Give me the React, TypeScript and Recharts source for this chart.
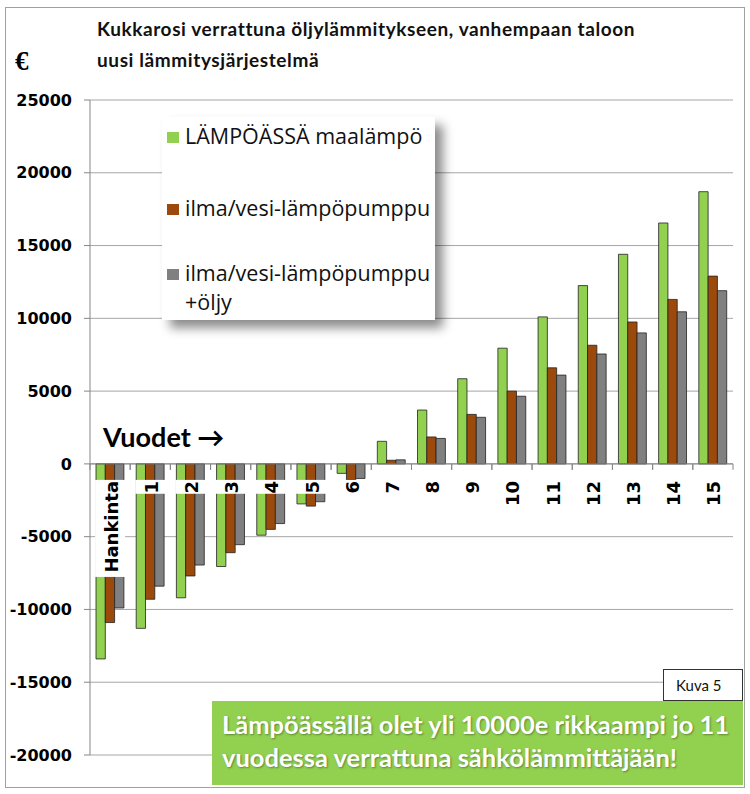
import React from 'react'
import { BarChart, Bar, XAxis, YAxis, CartesianGrid, Legend, ReferenceLine, ReferenceDot } from 'recharts'

const categories = ['Hankinta', '1', '2', '3', '4', '5', '6', '7', '8', '9', '10', '11', '12', '13', '14', '15']
const maalampo = [-13400, -11300, -9200, -7050, -4900, -2750, -650, 1550, 3700, 5850, 7950, 10100, 12250, 14400, 16550, 18700]
const ilmaVesi = [-10900, -9300, -7700, -6100, -4500, -2900, -1100, 250, 1850, 3400, 5000, 6600, 8150, 9750, 11300, 12900]
const ilmaVesiOljy = [-9900, -8400, -6950, -5550, -4100, -2600, -1000, 280, 1750, 3200, 4650, 6100, 7550, 9000, 10450, 11900]
const yTicks = [-20000, -15000, -10000, -5000, 0, 5000, 10000, 15000, 20000, 25000]

const seriesNames = ['LÄMPÖÄSSÄ maalämpö', 'ilma/vesi-lämpöpumppu', 'ilma/vesi-lämpöpumppu\n+öljy']
const colors = ['#92d050', '#9c4a0c', '#808080']

const data = categories.map((name, i) => ({
  name,
  a: maalampo[i],
  b: ilmaVesi[i],
  c: ilmaVesiOljy[i],
}))

const BAND = 40.2

// rotated category label under the zero line, white box behind it hides the bars
function CatLabel(props: any) {
  const { cx, cy, text } = props
  const fs = 18
  const len = text.length * fs * 0.66 + 2
  const top = cy + 16
  return (
    <g>
      <line x1={cx - BAND / 2} x2={cx - BAND / 2} y1={cy} y2={cy + 6} stroke="#868686" />
      <line x1={cx + BAND / 2} x2={cx + BAND / 2} y1={cy} y2={cy + 6} stroke="#868686" />
      <rect x={cx - 15} y={top} width={30} height={len} fill="#fff" />
      <text
        x={cx + 1}
        y={top + 1}
        transform={`rotate(-90 ${cx + 1} ${top + 1})`}
        textAnchor="end"
        dominantBaseline="central"
        fontFamily="DejaVu Sans"
        fontWeight="bold"
        fontSize={fs}
        fill="#000"
      >
        {text}
      </text>
    </g>
  )
}

function LegendBox() {
  const rows = [
    { top: 4, color: colors[0], lines: [seriesNames[0]] },
    { top: 76, color: colors[1], lines: [seriesNames[1]] },
    { top: 141, color: colors[2], lines: seriesNames[2].split('\n') },
  ]
  return (
    <div
      style={{
        position: 'relative',
        width: 273,
        height: 203,
        background: '#fff',
        boxShadow: '8px 8px 10px rgba(0,0,0,0.45)',
        fontFamily: '"Open Sans", sans-serif',
        fontSize: 21.5,
        color: '#111',
      }}
    >
      {rows.map((r, i) => (
        <div key={i} style={{ position: 'absolute', left: 5, top: r.top }}>
          <span style={{ position: 'absolute', left: 0, top: 11, width: 12, height: 11, background: r.color }} />
          {r.lines.map((l, j) => (
            <div key={j} style={{ marginLeft: 18, lineHeight: '29px', whiteSpace: 'nowrap' }}>{l}</div>
          ))}
        </div>
      ))}
    </div>
  )
}

export default function App() {
  return (
    <div style={{ position: 'absolute', left: 0, top: 0, width: 750, height: 794, background: '#fff', overflow: 'hidden' }}>
      <div style={{ position: 'absolute', left: 5, top: 7, width: 738, height: 779, border: '1px solid #a0a0a0' }} />
      <div
        style={{
          position: 'absolute',
          left: 97,
          top: 13,
          fontFamily: 'Lato, sans-serif',
          fontWeight: 'bold',
          fontSize: 19,
          letterSpacing: 0.6,
          lineHeight: '31px',
          color: '#111',
          whiteSpace: 'nowrap',
        }}
      >
        Kukkarosi verrattuna öljylämmitykseen, vanhempaan taloon
        <br />
        uusi lämmitysjärjestelmä
      </div>
      <div style={{ position: 'absolute', left: 15, top: 46, fontFamily: '"Liberation Serif", serif', fontWeight: 'bold', fontSize: 27 }}>€</div>

      <BarChart
        width={750}
        height={794}
        data={data}
        margin={{ top: 100, right: 17, bottom: 39, left: 8 }}
        barSize={9.3}
        barGap={0}
        style={{ position: 'absolute', left: 0, top: 0 }}
      >
        <CartesianGrid vertical={false} stroke="#a6a6a6" />
        <XAxis dataKey="name" hide />
        <YAxis
          width={82}
          domain={[-20000, 25000]}
          ticks={yTicks}
          interval={0}
          tickSize={6}
          tickMargin={12}
          axisLine={{ stroke: '#868686' }}
          tickLine={{ stroke: '#868686' }}
          tick={{ fontFamily: 'DejaVu Sans', fontWeight: 'bold', fontSize: 16, fill: '#000' }}
        />
        <Legend
          layout="vertical"
          align="center"
          verticalAlign="middle"
          wrapperStyle={{ position: 'absolute', left: 162, top: 117, width: 273, height: 203 }}
          content={() => <LegendBox />}
        />
        <Bar dataKey="a" name={seriesNames[0]} fill={colors[0]} stroke="#222" strokeWidth={0.8} isAnimationActive={false} />
        <Bar dataKey="b" name={seriesNames[1]} fill={colors[1]} stroke="#222" strokeWidth={0.8} isAnimationActive={false} />
        <Bar dataKey="c" name={seriesNames[2]} fill={colors[2]} stroke="#222" strokeWidth={0.8} isAnimationActive={false} />
        <ReferenceLine y={0} stroke="#868686" />
        {categories.map((c) => (
          <ReferenceDot key={c} x={c} y={0} r={0} ifOverflow="visible" shape={(p: any) => <CatLabel {...p} text={c} />} />
        ))}
      </BarChart>

      <div
        style={{
          position: 'absolute',
          left: 103,
          top: 420,
          fontFamily: 'Lato, sans-serif',
          fontWeight: 'bold',
          fontSize: 27,
          color: '#000',
          whiteSpace: 'nowrap',
        }}
      >
        Vuodet →
      </div>

      <div
        style={{
          position: 'absolute',
          left: 663,
          top: 669,
          width: 80,
          height: 32,
          border: '1px solid #333',
          background: '#fff',
          fontFamily: 'Lato, sans-serif',
          fontSize: 15,
          lineHeight: '30px',
          paddingLeft: 12,
          boxSizing: 'border-box',
          color: '#111',
        }}
      >
        Kuva 5
      </div>
      <div
        style={{
          position: 'absolute',
          left: 212,
          top: 701,
          width: 531,
          height: 84,
          background: '#92d050',
          color: '#fff',
          fontFamily: 'Lato, sans-serif',
          fontWeight: 'bold',
          fontSize: 25.5,
          lineHeight: '33px',
          padding: '7px 0 0 10px',
          boxSizing: 'border-box',
          textShadow: '1px 1px 2px rgba(0,0,0,0.35)',
          whiteSpace: 'nowrap',
        }}
      >
        Lämpöässällä olet yli 10000e rikkaampi jo 11
        <br />
        vuodessa verrattuna sähkölämmittäjään!
      </div>
    </div>
  )
}
